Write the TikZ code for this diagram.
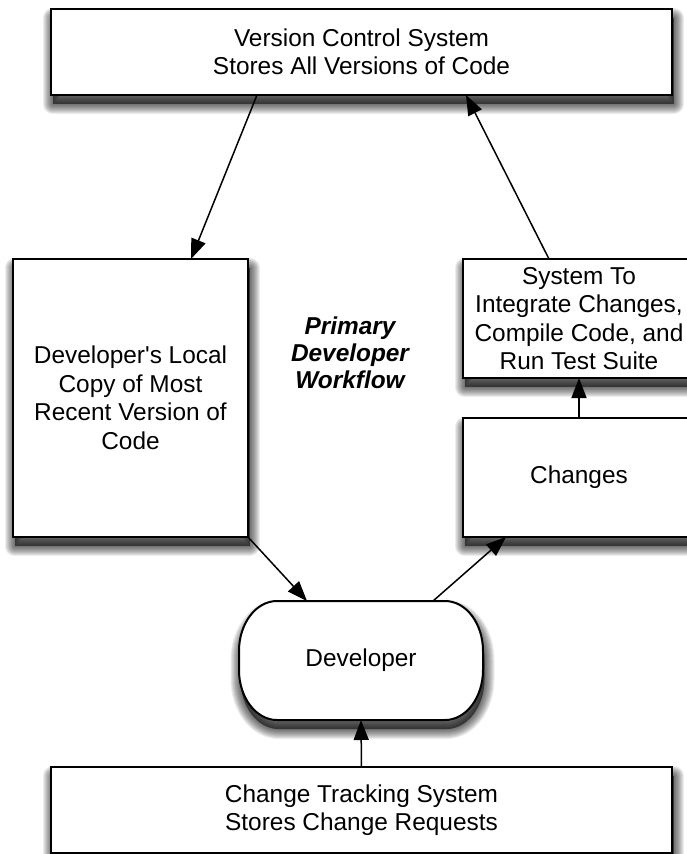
\documentclass[tikz,border=0pt]{standalone}
\usepackage{fontspec}
\setmainfont{Liberation Sans}
\usetikzlibrary{arrows.meta,calc}
\pgfdeclarelayer{bg}
\pgfsetlayers{bg,main}
\newcommand\rectshadow[1]{%
  \foreach \k in {1,...,10}{%
    \draw[black,opacity=0.075,fill,line width=\k*2pt,line join=round]
      ($(#1.north west)+(1.5,9)$) rectangle ($(#1.south east)+(1.5,9)$);}}
\newcommand\devpath{(277,601) -- (445,601) .. controls (466,601) and (483,623.4) .. (483,651)
  -- (483,670) .. controls (483,697.6) and (466,720) .. (445,720)
  -- (277,720) .. controls (256,720) and (239,697.6) .. (239,670)
  -- (239,651) .. controls (239,623.4) and (256,601) .. (277,601) -- cycle}
\begin{document}
\begin{tikzpicture}[x=1pt,y=-1pt,
  boxnode/.style={draw=black,line width=2pt,fill=white,inner sep=0pt,outer sep=0pt,align=center,
    font=\fontsize{24.4}{28.5}\selectfont},
  plainnode/.style={inner sep=0pt,outer sep=0pt,align=center,font=\fontsize{24.4}{28.5}\selectfont},
  conn/.style={line width=1.5pt,black,-{Triangle[length=20pt,width=15pt,fill=black]}}]
\useasboundingbox (0,0) rectangle (687,854);
\clip (0,0) rectangle (687,854);
% boxes
\node[boxnode,minimum width=621pt,minimum height=86pt] (top) at (361.5,52) {Version Control System\\Stores All Versions of Code};
\node[boxnode,minimum width=235pt,minimum height=278pt] (left) at (130.5,398) {Developer\textquotesingle s Local\\Copy of Most\\Recent Version of\\Code};
\node[boxnode,minimum width=232pt,minimum height=119pt] (sys) at (579,318.5) {System To\\Integrate Changes,\\Compile Code, and\\Run Test Suite};
\node[boxnode,minimum width=232pt,minimum height=119pt] (chg) at (579,477.5) {Changes};
\node[boxnode,minimum width=621pt,minimum height=86pt] (bot) at (361.5,810) {Change Tracking System\\Stores Change Requests};
% developer terminal shape
\draw[line width=2pt,fill=white] \devpath;
\node[plainnode,minimum width=244pt,minimum height=119pt] (dev) at (361,660.5) {Developer};
% shadows
\begin{pgfonlayer}{bg}
  \rectshadow{top}
  \rectshadow{left}
  \rectshadow{sys}
  \rectshadow{chg}
  \rectshadow{bot}
  \begin{scope}[shift={(1.5,9)}]
    \foreach \k in {1,...,10}{%
      \draw[black,opacity=0.075,fill,line width=\k*2pt,line join=round] \devpath;}
  \end{scope}
\end{pgfonlayer}
% title
\node[plainnode,font=\fontsize{24.4}{27}\selectfont\bfseries\itshape] (title) at (350,353) {Primary\\Developer\\Workflow};
% connectors
\draw[conn] ([xshift=206pt]top.south west) -- ([xshift=178pt]left.north west);
\draw[conn] (left.south east) -- ([xshift=68pt]dev.north west);
\draw[conn] ([xshift=194pt]dev.north west) -- ([xshift=43pt]chg.south west);
\draw[conn] (chg.north) -- (sys.south);
\draw[conn] ([xshift=86pt]sys.north west) -- ([xshift=415pt]top.south west);
\draw[conn] (bot.north) -- (dev.south);
\end{tikzpicture}
\end{document}
